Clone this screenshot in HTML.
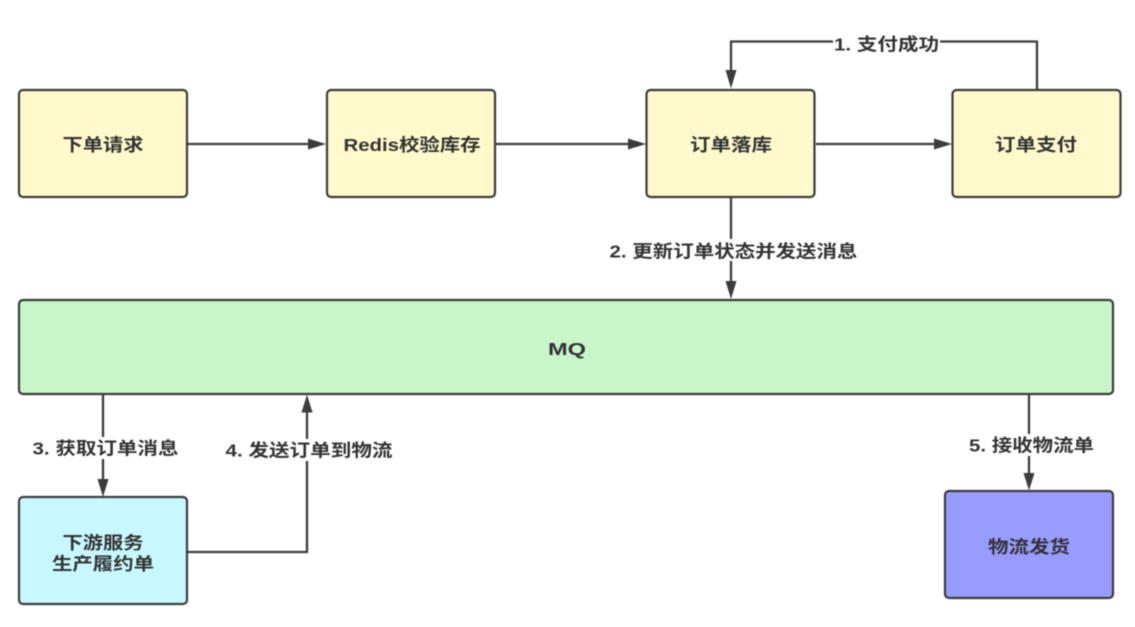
<!DOCTYPE html>
<html><head><meta charset="utf-8">
<style>
html,body{margin:0;padding:0;background:#fff;width:1135px;height:627px;overflow:hidden}
svg{display:block;filter:blur(.5px)}
text{font-family:"Liberation Sans","Noto Sans CJK SC",sans-serif;font-weight:700;fill:#333;font-size:17.500px;text-anchor:middle}
.b{stroke:#3c3c3c;stroke-width:2.200}
.l{fill:none;stroke:#3c3c3c;stroke-width:2.300}
.a{fill:#3c3c3c}
.bg{fill:#fff;stroke:none}
</style></head><body>
<svg width="1135" height="627" viewBox="0 0 1135 627" xmlns="http://www.w3.org/2000/svg">
<rect width="1135" height="627" fill="#fff"/>
<!-- connectors -->
<path class="l" d="M188 144H312"/><path class="a" d="M326 144L308 138.500V149.500Z"/>
<path class="l" d="M496 144H632"/><path class="a" d="M646 144L628 138.500V149.500Z"/>
<path class="l" d="M816 144H938"/><path class="a" d="M952 144L934 138.500V149.500Z"/>
<path class="l" d="M1037 89V41.500H731V76"/><path class="a" d="M731 88.500L725.500 70H736.500Z"/>
<path class="l" d="M731 198V286"/><path class="a" d="M731 299L725.500 281H736.500Z"/>
<path class="l" d="M103 395V484"/><path class="a" d="M103 497L97.500 479H108.500Z"/>
<path class="l" d="M188 552H307V408"/><path class="a" d="M307 394.500L301.500 412.500H312.500Z"/>
<path class="l" d="M1029 395V478"/><path class="a" d="M1029 490.500L1023.500 473H1034.500Z"/>
<!-- boxes -->
<rect class="b" x="19" y="90" width="168" height="107" rx="4" fill="#fff9cc"/>
<rect class="b" x="327" y="90" width="168" height="107" rx="4" fill="#fff9cc"/>
<rect class="b" x="646.500" y="90" width="168" height="107" rx="4" fill="#fff9cc"/>
<rect class="b" x="952.500" y="90" width="168" height="107" rx="4" fill="#fff9cc"/>
<rect class="b" x="19" y="300" width="1094" height="94" rx="4" fill="#c8f6c8"/>
<rect class="b" x="19" y="497" width="168" height="107" rx="4" fill="#c8f8ff"/>
<rect class="b" x="945" y="491" width="168" height="107" rx="4" fill="#989cff"/>
<!-- label backgrounds -->
<rect class="bg" x="833" y="31" width="107" height="22"/>
<rect class="bg" x="608" y="239" width="250" height="22"/>
<rect class="bg" x="31" y="437" width="148" height="22"/>
<rect class="bg" x="225" y="439" width="168" height="22"/>
<rect class="bg" x="967" y="434" width="127" height="22"/>
<!-- node labels -->
<text x="103" y="151" textLength="81" lengthAdjust="spacingAndGlyphs">下单请求</text>
<text x="412" y="151" textLength="137" lengthAdjust="spacingAndGlyphs">Redis校验库存</text>
<text x="731" y="151" textLength="82" lengthAdjust="spacingAndGlyphs">订单落库</text>
<text x="1036" y="151" textLength="82" lengthAdjust="spacingAndGlyphs">订单支付</text>
<text x="567" y="355" textLength="38" lengthAdjust="spacingAndGlyphs">MQ</text>
<text x="103" y="549" textLength="81" lengthAdjust="spacingAndGlyphs">下游服务</text>
<text x="103" y="570" textLength="102" lengthAdjust="spacingAndGlyphs">生产履约单</text>
<text x="1029" y="553" textLength="82" lengthAdjust="spacingAndGlyphs">物流发货</text>
<!-- connector labels -->
<text x="886.500" y="50.500" textLength="105" lengthAdjust="spacingAndGlyphs">1. 支付成功</text>
<text x="733.500" y="257.500" textLength="248" lengthAdjust="spacingAndGlyphs">2. 更新订单状态并发送消息</text>
<text x="105.500" y="454.500" textLength="146" lengthAdjust="spacingAndGlyphs">3. 获取订单消息</text>
<text x="309" y="456.500" textLength="167" lengthAdjust="spacingAndGlyphs">4. 发送订单到物流</text>
<text x="1031.500" y="451.500" textLength="125" lengthAdjust="spacingAndGlyphs">5. 接收物流单</text>
</svg>
</body></html>
